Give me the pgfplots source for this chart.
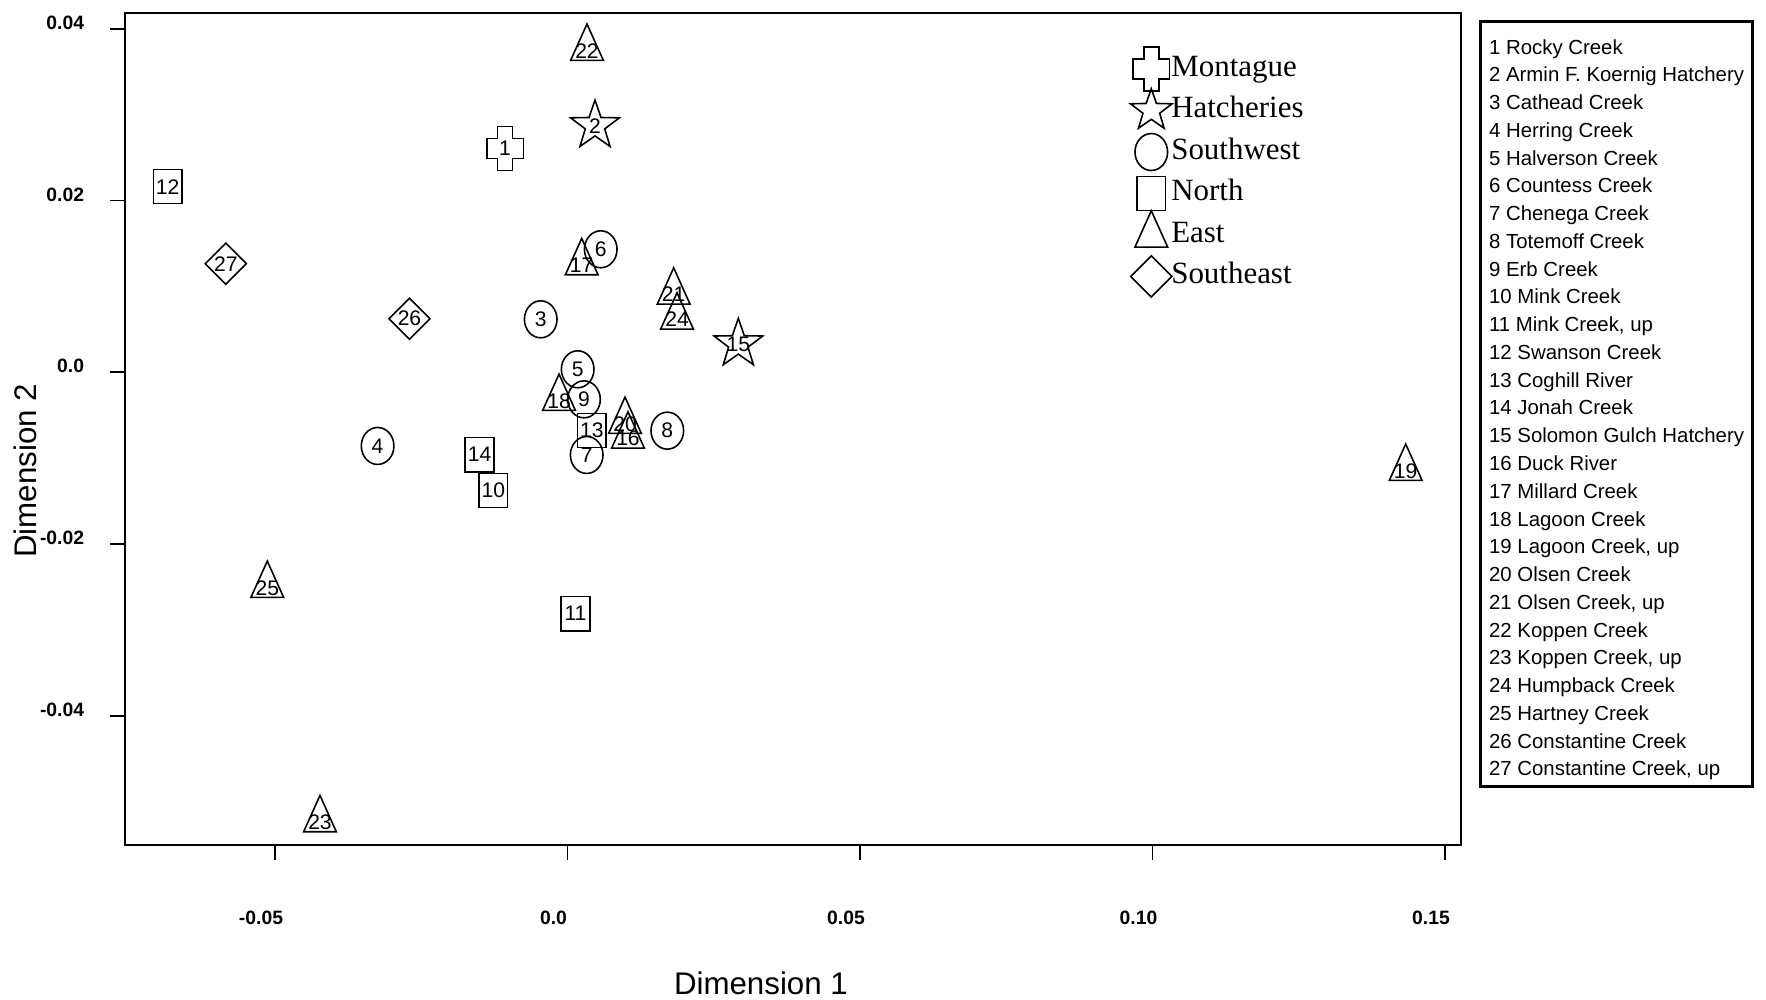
\documentclass[border=0pt]{standalone}
\usepackage{fontspec}
\setmainfont{Liberation Sans}
\newfontfamily\timesfont{Liberation Serif}
\usepackage{pgfplots}
\pgfplotsset{compat=1.18}

% custom hollow marks (fixed sizes)
\pgfdeclareplotmark{mcross}{%
  \pgfpathmoveto{\pgfqpoint{-2.13pt}{6.26pt}}%
  \pgfpathlineto{\pgfqpoint{2.13pt}{6.26pt}}%
  \pgfpathlineto{\pgfqpoint{2.13pt}{2.85pt}}%
  \pgfpathlineto{\pgfqpoint{5.2pt}{2.85pt}}%
  \pgfpathlineto{\pgfqpoint{5.2pt}{-2.85pt}}%
  \pgfpathlineto{\pgfqpoint{2.13pt}{-2.85pt}}%
  \pgfpathlineto{\pgfqpoint{2.13pt}{-6.26pt}}%
  \pgfpathlineto{\pgfqpoint{-2.13pt}{-6.26pt}}%
  \pgfpathlineto{\pgfqpoint{-2.13pt}{-2.85pt}}%
  \pgfpathlineto{\pgfqpoint{-5.2pt}{-2.85pt}}%
  \pgfpathlineto{\pgfqpoint{-5.2pt}{2.85pt}}%
  \pgfpathlineto{\pgfqpoint{-2.13pt}{2.85pt}}%
  \pgfpathclose\pgfusepathqstroke}
\pgfdeclareplotmark{mstar}{%
  \pgfpathmoveto{\pgfqpointpolar{90}{7.3pt}}%
  \pgfpathlineto{\pgfqpointpolar{126}{2.9pt}}%
  \pgfpathlineto{\pgfqpointpolar{162}{7.3pt}}%
  \pgfpathlineto{\pgfqpointpolar{198}{2.9pt}}%
  \pgfpathlineto{\pgfqpointpolar{234}{7.3pt}}%
  \pgfpathlineto{\pgfqpointpolar{270}{2.9pt}}%
  \pgfpathlineto{\pgfqpointpolar{306}{7.3pt}}%
  \pgfpathlineto{\pgfqpointpolar{342}{2.9pt}}%
  \pgfpathlineto{\pgfqpointpolar{18}{7.3pt}}%
  \pgfpathlineto{\pgfqpointpolar{54}{2.9pt}}%
  \pgfpathclose\pgfusepathqstroke}
\pgfdeclareplotmark{mstarS}{%
  \pgfpathmoveto{\pgfqpointpolar{90}{6.2pt}}%
  \pgfpathlineto{\pgfqpointpolar{126}{2.5pt}}%
  \pgfpathlineto{\pgfqpointpolar{162}{6.2pt}}%
  \pgfpathlineto{\pgfqpointpolar{198}{2.5pt}}%
  \pgfpathlineto{\pgfqpointpolar{234}{6.2pt}}%
  \pgfpathlineto{\pgfqpointpolar{270}{2.5pt}}%
  \pgfpathlineto{\pgfqpointpolar{306}{6.2pt}}%
  \pgfpathlineto{\pgfqpointpolar{342}{2.5pt}}%
  \pgfpathlineto{\pgfqpointpolar{18}{6.2pt}}%
  \pgfpathlineto{\pgfqpointpolar{54}{2.5pt}}%
  \pgfpathclose\pgfusepathqstroke}
\pgfdeclareplotmark{mcirc}{%
  \pgfpathellipse{\pgfpointorigin}{\pgfqpoint{4.64pt}{0pt}}{\pgfqpoint{0pt}{5.26pt}}%
  \pgfusepathqstroke}
\pgfdeclareplotmark{msquare}{%
  \pgfpathrectangle{\pgfqpoint{-4.07pt}{-4.84pt}}{\pgfqpoint{8.14pt}{9.68pt}}%
  \pgfusepathqstroke}
\pgfdeclareplotmark{mtri}{%
  \pgfpathmoveto{\pgfqpoint{0pt}{6.89pt}}%
  \pgfpathlineto{\pgfqpoint{4.65pt}{-3.44pt}}%
  \pgfpathlineto{\pgfqpoint{-4.65pt}{-3.44pt}}%
  \pgfpathclose\pgfusepathqstroke}
\pgfdeclareplotmark{mdiam}{%
  \pgfpathmoveto{\pgfqpoint{0pt}{5.85pt}}%
  \pgfpathlineto{\pgfqpoint{5.85pt}{0pt}}%
  \pgfpathlineto{\pgfqpoint{0pt}{-5.85pt}}%
  \pgfpathlineto{\pgfqpoint{-5.85pt}{0pt}}%
  \pgfpathclose\pgfusepathqstroke}

\pgfplotsset{
  mylegend/.style={legend image code/.code={%
    \begin{pgfinterruptboundingbox}\draw[##1] plot coordinates {(0cm,0cm)};\end{pgfinterruptboundingbox}%
    \pgfpathrectangle{\pgfqpoint{-5.2pt}{-2pt}}{\pgfqpoint{10.4pt}{4pt}}\pgfusepath{discard}}},
  grp/.style={only marks, black, mark=#1, mark options={solid, line width=0.45pt, black},
    point meta=explicit symbolic, nodes near coords,
    nodes near coords style={anchor=center, inner sep=0pt, text=black, font=\fontsize{6}{6}\selectfont},
    mylegend},
}

\begin{document}
\begin{tikzpicture}
\begin{axis}[
  scale only axis, width=133.6mm, height=83.2mm,
  xmin=-0.075641, xmax=0.152735, ymin=-0.055061, ymax=0.041852,
  axis line style={line width=0.6pt},
  tick style={black, line width=0.5pt},
  tick align=outside, major tick length=1.5mm,
  xtick pos=bottom, ytick pos=left,
  xtick={-0.05,0,0.05,0.1,0.15}, xticklabels={-0.05,0.0,0.05,0.10,0.15},
  ytick={-0.04,-0.02,0,0.02,0.04}, yticklabels={-0.04,-0.02,0.0,0.02,0.04},
  scaled ticks=false,
  ticklabel style={font=\fontsize{5.5}{6}\selectfont\bfseries},
  xticklabel style={yshift=-3.9mm, xshift=-1.4mm},
  yticklabel style={anchor=east, xshift=-1.35mm, yshift=0.6mm},
  xlabel={Dimension 1}, ylabel={Dimension 2},
  label style={font=\fontsize{8.9}{10}\selectfont},
  xlabel style={at={(axis description cs:0.476,-0.1659)}, anchor=center},
  ylabel style={at={(axis description cs:-0.0749,0.4495)}, anchor=center},
  clip=false,
  legend cell align=left,
  legend style={at={(axis description cs:0.7545,0.9495)}, anchor=north west,
    draw=none, fill=none, inner sep=0pt, outer sep=0pt,
    row sep=3.8pt, column sep=0.5pt,
    font=\timesfont\fontsize{8.8}{10}\selectfont,
    nodes={inner sep=0pt, text height=6pt, text depth=2pt}},
]
\addplot[grp=mcross] table[x=x,y=y,meta=lab] {
x y lab
-0.01068 0.02605 1
};
\addplot[grp=mstar, legend image code/.code={%
    \begin{pgfinterruptboundingbox}\draw[mark=mstarS, mark options={solid, line width=0.45pt, black}] plot coordinates {(0cm,0cm)};\end{pgfinterruptboundingbox}%
    \pgfpathrectangle{\pgfqpoint{-5.2pt}{-2pt}}{\pgfqpoint{10.4pt}{4pt}}\pgfusepath{discard}}] table[x=x,y=y,meta=lab] {
x y lab
0.0047 0.02872 2
0.0292 0.0033 15
};
\addplot[grp=mcirc] table[x=x,y=y,meta=lab] {
x y lab
-0.00458 0.00617 3
-0.03246 -0.00858 4
0.00174 0.00035 5
0.00568 0.01433 6
0.00328 -0.00963 7
0.01706 -0.0068 8
0.00282 -0.00315 9
};
\addplot[grp=msquare] table[x=x,y=y,meta=lab] {
x y lab
-0.01267 -0.01379 10
0.00137 -0.02812 11
-0.06836 0.02162 12
0.00415 -0.0068 13
-0.01503 -0.0096 14
};
\addplot[grp=mtri, nodes near coords style={yshift=-0.25mm}] table[x=x,y=y,meta=lab] {
x y lab
0.01034 -0.00742 16
0.00243 0.01277 17
-0.00145 -0.00303 18
0.14328 -0.01118 19
0.00983 -0.00571 20
0.01815 0.00935 21
0.00333 0.03775 22
-0.04231 -0.05211 23
0.01872 0.00644 24
-0.05132 -0.02481 25
};
\addplot[grp=mdiam] table[x=x,y=y,meta=lab] {
x y lab
-0.02701 0.00624 26
-0.05841 0.01265 27
};
\legend{Montague,Hatcheries,Southwest,North,East,Southeast}

\node[draw, line width=0.9pt, anchor=north west, inner xsep=0.75mm, inner ysep=0pt,
  minimum width=27.2mm, minimum height=76.5mm, align=left,
  font=\fontsize{5.8}{7.9}\selectfont] at (rel axis cs:1.01347,0.99159)
  {\rule{0pt}{2.6mm}1 Rocky Creek\\
   2 Armin F. Koernig Hatchery\\
   3 Cathead Creek\\
   4 Herring Creek\\
   5 Halverson Creek\\
   6 Countess Creek\\
   7 Chenega Creek\\
   8 Totemoff Creek\\
   9 Erb Creek\\
   10 Mink Creek\\
   11 Mink Creek, up\\
   12 Swanson Creek\\
   13 Coghill River\\
   14 Jonah Creek\\
   15 Solomon Gulch Hatchery\\
   16 Duck River\\
   17 Millard Creek\\
   18 Lagoon Creek\\
   19 Lagoon Creek, up\\
   20 Olsen Creek\\
   21 Olsen Creek, up\\
   22 Koppen Creek\\
   23 Koppen Creek, up\\
   24 Humpback Creek\\
   25 Hartney Creek\\
   26 Constantine Creek\\
   27 Constantine Creek, up};

\coordinate (bbsw) at (rel axis cs:-0.09356,-0.18630);
\coordinate (bbne) at (rel axis cs:1.22829,1.015625);
\end{axis}
\pgfresetboundingbox
\path[use as bounding box] (bbsw) rectangle (bbne);
\end{tikzpicture}
\end{document}
